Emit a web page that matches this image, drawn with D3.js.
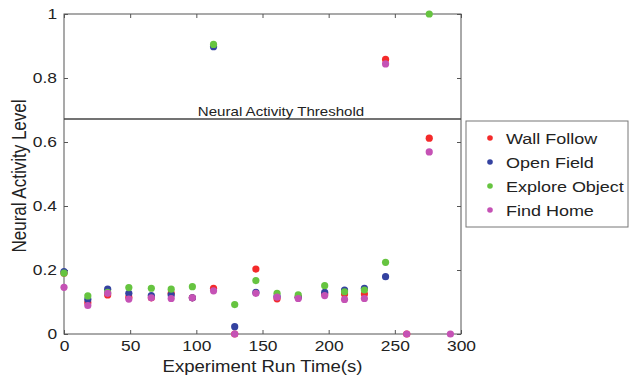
<!DOCTYPE html>
<meta charset="utf-8">
<script src="https://d3js.org/d3.v7.min.js"></script>
<style>
  body { margin: 0; background: #fff; }
  text { font-family: "Liberation Sans", Arial, sans-serif; fill: #222; }
</style>
<svg id="chart" width="631" height="379"></svg>
<script>
// run times (s)
var times = [0, 18, 33, 49, 66, 81, 97, 113, 129, 145, 161, 177, 197, 212, 227, 243, 259, 276, 292];

// neural activity per behaviour (null = not plotted)
var wallFollow    = [0.19, 0.098, 0.122, 0.115, 0.113, 0.127, 0.113, 0.143, 0, 0.203, 0.11, 0.115, 0.125, 0.125, 0.125, 0.858, 0, 0.612, null];
var openField     = [0.195, 0.108, 0.14, 0.127, 0.12, 0.122, 0.113, 0.898, 0.023, 0.13, 0.118, 0.115, 0.13, 0.1375, 0.143, 0.179, null, null, null];
var exploreObject = [0.19, 0.119, 0.13, 0.145, 0.143, 0.14, 0.148, 0.905, 0.092, 0.167, 0.127, 0.122, 0.151, 0.132, 0.1375, 0.224, null, 1.0, null];
var findHome      = [0.146, 0.089, 0.127, 0.109, 0.113, 0.111, 0.113, 0.135, 0, 0.127, 0.115, 0.111, 0.12, 0.108, 0.111, 0.844, 0, 0.569, 0];

var seriesNames = ["Wall Follow", "Open Field", "Explore Object", "Find Home"];
var seriesColors = ["#f42a2a", "#3442a0", "#66c440", "#c552b5"];
var threshold = 0.672;

var series = [wallFollow, openField, exploreObject, findHome].map(function(vals, i) {
  return { name: seriesNames[i], color: seriesColors[i], values: vals };
});

var svg = d3.select("#chart");
var x0 = 64, x1 = 461, y0 = 334, y1 = 14;
var stretch = "scale(1.16,1)"; // the original figure is a little wide

var x = d3.scaleLinear().domain([0, 300]).range([x0, x1]);
var y = d3.scaleLinear().domain([0, 1]).range([y0, y1]);

var axisColor = "#555";

// frame
svg.append("rect")
  .attr("x", x0).attr("y", y1)
  .attr("width", x1 - x0).attr("height", y0 - y1)
  .attr("fill", "none").attr("stroke", axisColor).attr("stroke-width", 1);

// axes (ticks inward)
function styleAxis(g) {
  g.select(".domain").remove();
  g.selectAll(".tick line").attr("stroke", axisColor);
  g.selectAll(".tick text").style("font-size", "15px").attr("fill", "#222").attr("transform", stretch);
}

svg.append("g").attr("transform", "translate(0," + y0 + ")")
  .call(d3.axisBottom(x).tickValues(d3.range(0, 301, 50)).tickSizeInner(-4).tickPadding(6))
  .call(styleAxis);
svg.append("g").attr("transform", "translate(0," + y1 + ")")
  .call(d3.axisTop(x).tickValues(d3.range(0, 301, 50)).tickSizeInner(-4).tickFormat(""))
  .call(styleAxis);
svg.append("g").attr("transform", "translate(" + x0 + ",0)")
  .call(d3.axisLeft(y).tickValues([0, 0.2, 0.4, 0.6, 0.8, 1]).tickFormat(d3.format("~g")).tickSizeInner(-4).tickPadding(6))
  .call(styleAxis);
svg.append("g").attr("transform", "translate(" + x1 + ",0)")
  .call(d3.axisRight(y).tickValues([0, 0.2, 0.4, 0.6, 0.8, 1]).tickSizeInner(-4).tickFormat(""))
  .call(styleAxis);

// threshold
svg.append("line")
  .attr("x1", x0).attr("x2", x1)
  .attr("y1", y(threshold)).attr("y2", y(threshold))
  .attr("stroke", "#444").attr("stroke-width", 1.5);
svg.append("text")
  .attr("transform", "translate(" + x(164) + "," + (y(threshold) - 3) + ") " + stretch)
  .attr("text-anchor", "middle")
  .style("font-size", "13px")
  .text("Neural Activity Threshold");

// points
series.forEach(function(s) {
  svg.append("g").selectAll("circle")
    .data(s.values.map(function(v, i) { return { t: times[i], v: v }; }).filter(function(d) { return d.v !== null; }))
    .enter().append("circle")
      .attr("cx", function(d) { return x(d.t); })
      .attr("cy", function(d) { return y(d.v); })
      .attr("r", 3.6)
      .attr("fill", s.color);
});

// axis labels
svg.append("text")
  .attr("transform", "translate(" + x(150) + ",372) " + stretch)
  .attr("text-anchor", "middle")
  .style("font-size", "16px")
  .text("Experiment Run Time(s)");
svg.append("text")
  .attr("transform", "translate(26," + (y(0.5) + 2) + ") " + stretch + " rotate(-90)")
  .attr("text-anchor", "middle")
  .style("font-size", "17px")
  .text("Neural Activity Level");

// legend
var legend = svg.append("g").attr("transform", "translate(466,121)");
legend.append("rect")
  .attr("width", 162).attr("height", 106)
  .attr("fill", "#fff").attr("stroke", "#777");
series.forEach(function(s, i) {
  var row = legend.append("g").attr("transform", "translate(0," + (17 + i * 24) + ")");
  row.append("circle").attr("cx", 24).attr("cy", 0).attr("r", 2.8).attr("fill", s.color);
  row.append("text").attr("transform", "translate(40,5.5) " + stretch)
    .style("font-size", "15.5px").text(s.name);
});
</script>
